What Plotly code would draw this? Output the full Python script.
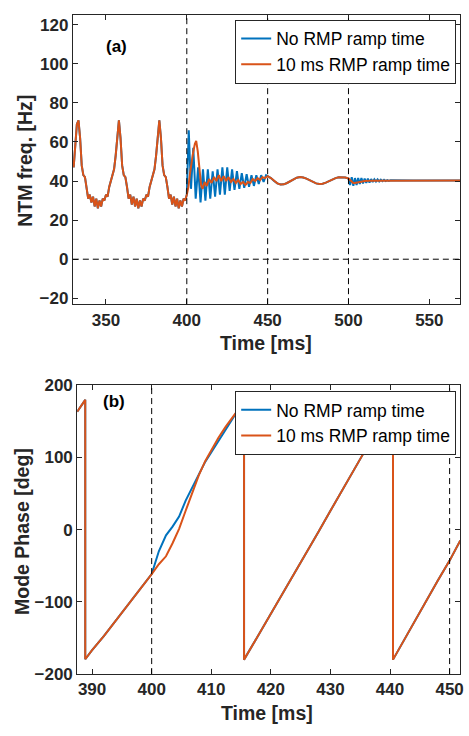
import plotly.graph_objects as go

# ---------------- data: panel (a) NTM frequency [Hz] ----------------
# shared part before RMP (t = 330 ... 400 ms, 1 ms step)
t_pre = list(range(330, 401))
f_pre = [47, 60, 69, 71, 62, 48, 43, 42, 37, 31,
         33, 29, 32, 27, 31, 26, 30, 27, 31, 30,
         33, 32, 37, 40, 43, 46, 53, 64, 71, 62,
         48, 43, 42, 37, 31, 33, 28, 32, 27, 31,
         26, 30, 27, 31, 30, 33, 32, 37, 40, 43,
         46, 53, 64, 71, 62, 48, 43, 42, 37, 31,
         33, 28, 32, 27, 31, 26, 30, 27, 31, 30,
         33]

# 400-450 ms, no RMP ramp time (blue)
t_blue_mid = [400.5, 401.2, 402.6, 404.0, 405.5, 407.0, 408.5, 410.0, 411.5, 413.0,
              414.5, 416.0, 417.5, 419.0, 420.5, 422.0, 423.5, 425.0, 426.5, 428.0,
              429.5, 431.0, 432.5, 434.0, 435.5, 437.0, 438.5, 440.0, 441.5, 443.0,
              444.5, 446.0, 447.5, 449.0, 450.0]
f_blue_mid = [48, 66, 36, 57, 31, 47, 29, 46, 30, 46,
              31, 45, 32, 46, 33, 47, 33, 47, 35, 46,
              35.5, 45, 36, 44, 36.5, 43.5, 37, 43, 37.5, 43,
              38.5, 43, 39.5, 43, 42.5]

# 400-450 ms, 10 ms RMP ramp time (orange)
t_orange_mid = [401, 402, 403, 404, 405, 405.8, 406.8, 407.8, 408.8, 409.8,
                411.0, 412.3, 413.8, 415.3, 416.8, 418.3, 419.8, 421.3, 422.8, 424.3,
                425.8, 427.3, 428.8, 430.3, 431.8, 433.3, 434.8, 436.3, 437.8, 439.3,
                440.8, 442.3, 443.8, 445.3, 446.8, 448.3, 450]
f_orange_mid = [37, 44, 50, 55, 59, 60.5, 55, 46, 38, 36,
                39.5, 37.5, 41, 39, 42, 40, 43, 40, 42.5, 40,
                42, 39.5, 41, 39, 40.5, 38.5, 39.5, 38, 39.5, 39,
                41, 40, 41.5, 40.5, 42, 41.5, 42.5]

# 450-500 ms, both cases
t_late = [452, 454, 456, 458, 460, 462, 464, 466, 468, 470, 472, 474, 476,
          478, 480, 482, 484, 486, 488, 490, 492, 494, 496, 498, 500]
f_late = [41.5, 40, 38.8, 38.2, 38.3, 39, 40, 41, 41.7, 42, 41.8, 41.2, 40.3,
          39.5, 38.8, 38.5, 38.6, 39.2, 40, 40.8, 41.5, 41.9, 42, 41.8, 41.3]

# after 500 ms
t_blue_end = [501, 502, 503, 504, 505, 506, 507, 508, 509, 510, 511, 512, 513,
              514, 515, 516, 517, 518, 519, 520, 521, 522, 523, 524, 525, 526,
              530, 540, 550, 560, 570]
f_blue_end = [38, 42, 37.5, 41.5, 38, 41.5, 38.5, 41.5, 38.8, 41.3, 39, 41.2, 39.2,
              41, 39.5, 40.9, 39.7, 40.8, 39.8, 40.7, 39.9, 40.6, 40.0, 40.5, 40.1, 40.4,
              40.3, 40.3, 40.3, 40.3, 40.3]
t_orange_end = [501, 502, 503, 504, 505, 506, 508, 510, 515, 520, 530, 540, 550, 560, 570]
f_orange_end = [40.5, 39.5, 39, 39, 39.2, 39.5, 39.8, 40, 40.2, 40.2, 40.3, 40.3, 40.3, 40.3, 40.3]

# ---------------- data: panel (b) mode phase [deg] ----------------
t_ph_pre = [387.5, 388.85, 388.85, 390, 392, 394, 396, 398, 400]
p_ph_pre = [163, 179.5, -179.5, -167, -147, -126, -105, -83, -61.6]

t_ph_blue_mid = [401.2, 402.4, 403.5, 404.6, 405.7, 406.8, 407.9, 409.0, 410.1,
                 411.2, 412.4, 414.0, 415.5]
p_ph_blue_mid = [-30, -8, 4, 18, 40, 57, 76, 94, 108, 122, 139, 159, 180]

t_ph_orange_mid = [401.2, 402.4, 403.5, 404.6, 405.7, 406.8, 407.9, 409.0, 410.1,
                   411.2, 412.4, 414.0, 415.5]
p_ph_orange_mid = [-48, -37, -19, 1, 26, 52, 75, 95, 112, 127, 142, 160, 180]

t_ph_late = [415.5, 418, 420, 422, 424, 426, 428, 430, 432, 434, 436, 438, 440.5,
             440.5, 442, 444, 446, 448, 450, 451.8]
p_ph_late = [-180, -145, -117, -89, -60, -31, -3, 26, 54, 83, 112, 141, 178.5,
             -180, -158, -129, -100, -71, -43, -15]

# reference lines
vlines_a = [400, 450, 500]
hlines_a = [0]
vlines_b = [400, 450]

# tick values
xticks_a = [350, 400, 450, 500, 550]
yticks_a = [-20, 0, 20, 40, 60, 80, 100, 120]
xticks_b = [390, 400, 410, 420, 430, 440, 450]
yticks_b = [-200, -100, 0, 100, 200]

names = ["No RMP ramp time", "10 ms RMP ramp time"]

# ---------------- figure ----------------
BLUE = "#0072BD"
ORANGE = "#D95319"
INK = "#262626"
FONT = "Liberation Sans, Arial, Helvetica, sans-serif"
W, H = 469, 736

fig = go.Figure()

fig.add_trace(go.Scatter(x=t_pre + t_blue_mid + t_late + t_blue_end,
                         y=f_pre + f_blue_mid + f_late + f_blue_end,
                         mode="lines", line=dict(color=BLUE, width=2),
                         name=names[0], xaxis="x", yaxis="y", legend="legend"))
fig.add_trace(go.Scatter(x=t_pre + t_orange_mid + t_late + t_orange_end,
                         y=f_pre + f_orange_mid + f_late + f_orange_end,
                         mode="lines", line=dict(color=ORANGE, width=2),
                         name=names[1], xaxis="x", yaxis="y", legend="legend"))
fig.add_trace(go.Scatter(x=t_ph_pre + t_ph_blue_mid + t_ph_late,
                         y=p_ph_pre + p_ph_blue_mid + p_ph_late,
                         mode="lines", line=dict(color=BLUE, width=2),
                         name=names[0], xaxis="x2", yaxis="y2", legend="legend2"))
fig.add_trace(go.Scatter(x=t_ph_pre + t_ph_orange_mid + t_ph_late,
                         y=p_ph_pre + p_ph_orange_mid + p_ph_late,
                         mode="lines", line=dict(color=ORANGE, width=2),
                         name=names[1], xaxis="x2", yaxis="y2", legend="legend2"))

dash_line = dict(color="black", width=1, dash="6px,4px")
shapes = []
for v in vlines_a:
    shapes.append(dict(type="line", xref="x", yref="y domain", x0=v, x1=v, y0=0, y1=1, line=dash_line))
for h in hlines_a:
    shapes.append(dict(type="line", xref="x domain", yref="y", x0=0, x1=1, y0=h, y1=h, line=dash_line))
for v in vlines_b:
    shapes.append(dict(type="line", xref="x2", yref="y2 domain", x0=v, x1=v, y0=0, y1=1, line=dash_line))

tickfont = dict(family=FONT, size=17, color=INK, weight="bold")
axis_common = dict(ticks="inside", ticklen=5, tickwidth=1, tickcolor=INK,
                   showline=True, linecolor=INK, linewidth=1, mirror="ticks",
                   showgrid=False, zeroline=False, tickfont=tickfont)

title_font = dict(family=FONT, size=19.5, color=INK, weight="bold")
annotations = [
    dict(text="NTM freq. [Hz]", x=25 / W, y=1 - 156 / H, textangle=-90, font=title_font),
    dict(text="Time [ms]", x=267.5 / W, y=1 - 343 / H, font=title_font),
    dict(text="Mode Phase [deg]", x=22 / W, y=1 - 536 / H, textangle=-90, font=title_font),
    dict(text="Time [ms]", x=269 / W, y=1 - 723 / H, font=title_font),
    dict(text="(a)", x=117 / W, y=1 - 39 / H, font=dict(family=FONT, size=17, color="black", weight="bold")),
    dict(text="(b)", x=115 / W, y=1 - 403 / H, font=dict(family=FONT, size=17, color="black", weight="bold")),
]
for a in annotations:
    a.update(xref="paper", yref="paper", showarrow=False, xanchor="center", yanchor="middle")

legend_common = dict(bgcolor="white", bordercolor=INK, borderwidth=1,
                     font=dict(family=FONT, size=17.5, color="black"),
                     itemwidth=30, xanchor="left", yanchor="top",
                     xref="paper", yref="paper")

fig.update_layout(
    width=W, height=H,
    margin=dict(l=0, r=0, t=0, b=0),
    paper_bgcolor="white", plot_bgcolor="white",
    font=dict(family=FONT, color=INK),
    showlegend=True,
    xaxis=dict(domain=[73.3 / W, 463 / W], anchor="y", range=[329.5, 569],
               tickvals=xticks_a, **axis_common),
    yaxis=dict(domain=[1 - 303 / H, 1 - 6 / H], anchor="x", range=[-23, 125],
               tickvals=yticks_a, **axis_common),
    xaxis2=dict(domain=[77.7 / W, 463.3 / W], anchor="y2", range=[387.5, 451.8],
                tickvals=xticks_b, **axis_common),
    yaxis2=dict(domain=[1 - 682.7 / H, 1 - 386 / H], anchor="x2", range=[-200, 200],
                tickvals=yticks_b, **axis_common),
    legend=dict(x=236.7 / W, y=1 - 11 / H, **legend_common),
    legend2=dict(x=236.7 / W, y=1 - 392 / H, **legend_common),
    shapes=shapes,
    annotations=annotations,
)

fig.write_html("out.html")
